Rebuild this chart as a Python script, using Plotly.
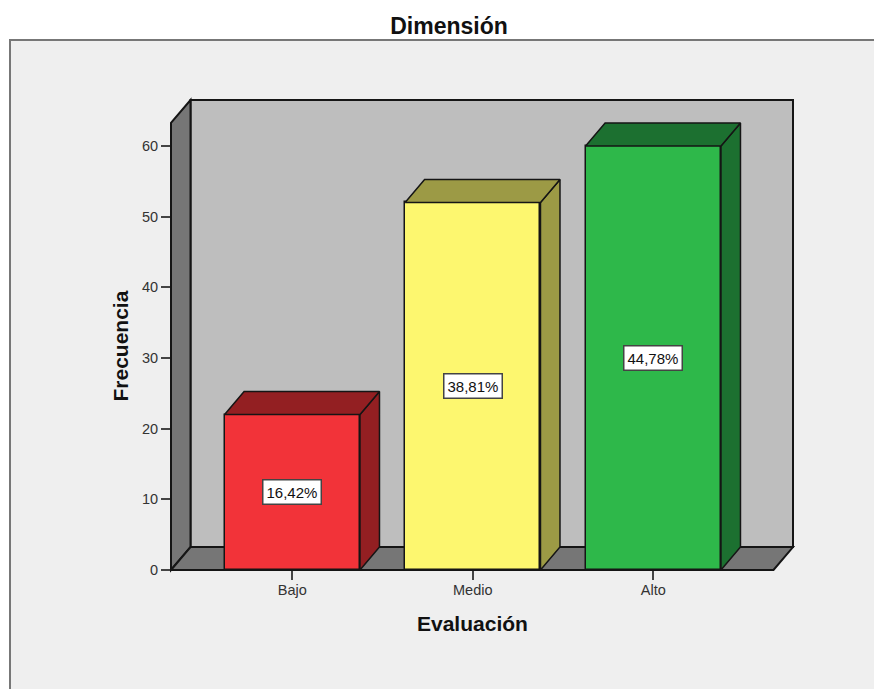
import plotly.graph_objects as go

categories = ["Bajo", "Medio", "Alto"]
positions = [0, 1, 2]
frequencies = [22, 52, 60]
percent_labels = ["16,42%", "38,81%", "44,78%"]
y_ticks = [0, 10, 20, 30, 40, 50, 60]

front_colors = ["#F23339", "#FDF76F", "#2EB84A"]
shade_colors = ["#931F22", "#9C9A45", "#1C7030"]

WIDTH, HEIGHT = 874, 689
L, R, T, B = 171, 793, 100, 570
X0, X1 = -0.672, 2.774
Y_TOP = 66.5
DX, DY = 0.108, 3.25
BAR_W = 0.75
EDGE = "#151515"
FONT = "Liberation Sans"


def to_paper(x, y):
    return (x - X0) / (X1 - X0), y / Y_TOP


def wall(points, fill):
    pts = [to_paper(x, y) for x, y in points]
    d = "M " + " L ".join(f"{x:.5f} {y:.5f}" for x, y in pts) + " Z"
    return dict(type="path", xref="paper", yref="paper", path=d, fillcolor=fill,
                line=dict(color=EDGE, width=2), layer="below")


pw = R - L
ph = B - T
panel = dict(type="rect", xref="paper", yref="paper", layer="below",
             x0=(10 - L) / pw, x1=(WIDTH + 20 - L) / pw,
             y0=(B - HEIGHT - 20) / ph, y1=(B - 40) / ph,
             fillcolor="#EFEFEF", line=dict(color="#777777", width=2))

shapes = [
    panel,
    wall([(X0 + DX, DY), (X1, DY), (X1, Y_TOP), (X0 + DX, Y_TOP)], "#BEBEBE"),
    wall([(X0, 0), (X0, Y_TOP - DY), (X0 + DX, Y_TOP), (X0 + DX, DY)], "#767676"),
    wall([(X0, 0), (X0 + DX, DY), (X1, DY), (X1 - DX, 0)], "#767676"),
]

fig = go.Figure()
fig.add_trace(go.Bar(x=positions, y=frequencies, width=BAR_W, cliponaxis=False,
                     marker=dict(color=front_colors, line=dict(color=EDGE, width=1.5)),
                     hoverinfo="skip", showlegend=False))

for p, v, shade in zip(positions, frequencies, shade_colors):
    a, b = p - BAR_W / 2, p + BAR_W / 2
    top_x = [a, a + DX, b + DX, b, a]
    top_y = [v, v + DY, v + DY, v, v]
    side_x = [b, b + DX, b + DX, b, b]
    side_y = [0, DY, v + DY, v, 0]
    for xs, ys in ((side_x, side_y), (top_x, top_y)):
        fig.add_trace(go.Scatter(x=xs, y=ys, mode="lines", fill="toself", fillcolor=shade,
                                 cliponaxis=False,
                                 line=dict(color=EDGE, width=1.5), hoverinfo="skip",
                                 showlegend=False))

annotations = [
    dict(x=p, y=v / 2, xref="x", yref="y", text=t, showarrow=False,
         font=dict(family=FONT, size=15, color="#111111"),
         bgcolor="white", bordercolor="#444444", borderwidth=1.5, borderpad=3)
    for p, v, t in zip(positions, frequencies, percent_labels)
]
annotations += [
    dict(text="<b>Evaluación</b>", xref="paper", yref="paper", x=(472.5 - L) / pw,
         y=(B - 623) / ph, xanchor="center", yanchor="middle", showarrow=False,
         font=dict(family=FONT, size=21, color="#111111")),
    dict(text="<b>Frecuencia</b>", xref="paper", yref="paper", x=(120 - L) / pw,
         y=(B - 346.5) / ph, xanchor="center", yanchor="middle", showarrow=False, textangle=-90,
         font=dict(family=FONT, size=21, color="#111111")),
]

fig.update_layout(
    width=WIDTH, height=HEIGHT,
    margin=dict(l=L, r=WIDTH - R, t=T, b=HEIGHT - B, pad=0, autoexpand=False),
    paper_bgcolor="white", plot_bgcolor="rgba(0,0,0,0)",
    font=dict(family=FONT, size=14, color="#333333"),
    title=dict(text="<b>Dimensión</b>", xref="container", yref="container",
               x=449 / WIDTH, y=1 - 26 / HEIGHT, xanchor="center", yanchor="middle",
               font=dict(family=FONT, size=23, color="#111111")),
    shapes=shapes, annotations=annotations, bargap=0,
    xaxis=dict(range=[X0, X1], tickvals=positions, ticktext=categories, ticks="outside",
               ticklen=9, tickwidth=1.5, tickcolor="#444444", showgrid=False, zeroline=False,
               showline=False, ticklabelstandoff=-2,
               tickfont=dict(family=FONT, size=14.5, color="#333333")),
    yaxis=dict(range=[0, Y_TOP], tickvals=y_ticks, ticks="outside", ticklen=9, tickwidth=1.5,
               tickcolor="#444444", showgrid=False, zeroline=False, showline=False,
               tickfont=dict(family=FONT, size=14.5, color="#333333")),
)

fig.write_html("out.html", config={"displayModeBar": False},
               post_script="document.body.style.margin='0';document.body.style.overflow='hidden';window.dispatchEvent(new Event('resize'));")
